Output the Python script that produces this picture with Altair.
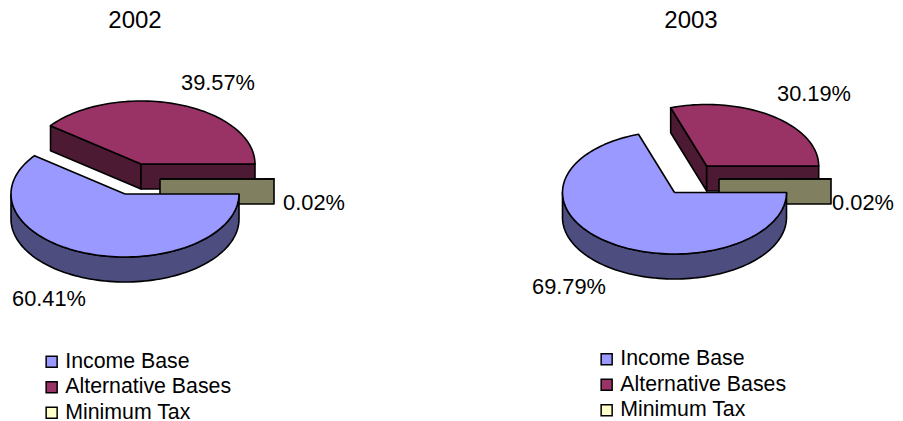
import math
import altair as alt
import pandas as pd

categories = ["Income Base", "Alternative Bases", "Minimum Tax"]
shares_2002 = [60.41, 39.57, 0.02]
shares_2003 = [69.79, 30.19, 0.02]
label_text_2002 = ["60.41%", "39.57%", "0.02%"]
label_text_2003 = ["69.79%", "30.19%", "0.02%"]
legend_colors = ["#9999FF", "#993366", "#FFFFCC"]
top_colors = ["#9999FF", "#993366", "#FFFFCC"]
side_colors = ["#4D4D80", "#4D1A33", "#808060"]

FONT = "Liberation Sans"
LABEL_SIZE = 21.8
LEGEND_SIZE = 21.3
TITLE_SIZE = 24
XDOM = [8, 895]
YDOM = [421, 8]
W, H = 887, 413
xs = alt.Scale(domain=XDOM, nice=False, zero=False)
ys = alt.Scale(domain=YDOM, nice=False, zero=False)
X = lambda f="x:Q": alt.X(f, scale=xs, axis=None)
Y = lambda f="y:Q": alt.Y(f, scale=ys, axis=None)


def arc(cx, cy, rx, ry, a, b, dy=0.0):
    n = max(1, int(abs(b - a) / 2))
    return [
        (cx + rx * math.cos(math.radians(a + (b - a) * i / n)),
         cy + dy + ry * math.sin(math.radians(a + (b - a) * i / n)))
        for i in range(n + 1)
    ]


def poly_layer(points, fill):
    df = pd.DataFrame(
        [{"x": x, "y": y, "i": i} for i, (x, y) in enumerate(points + points[:1])]
    )
    return alt.Chart(df).mark_line(
        fill=fill, stroke="black", strokeWidth=1.6, strokeJoin="round", clip=False
    ).encode(x=X(), y=Y(), order=alt.Order("i:Q"))


def slice_layers(apex, rx, ry, depth, a, b, top, side):
    cx, cy = apex
    out = []
    if -math.cos(math.radians(a)) > 1e-6:
        r = arc(cx, cy, rx, ry, a, a)
        out.append([(cx, cy), r[0], (r[0][0], r[0][1] + depth), (cx, cy + depth)])
    if math.cos(math.radians(b)) > 1e-6:
        r = arc(cx, cy, rx, ry, b, b)
        out.append([(cx, cy), r[0], (r[0][0], r[0][1] + depth), (cx, cy + depth)])
    lo, hi = max(a, 0.0), min(b, 180.0)
    if hi > lo:
        upper = arc(cx, cy, rx, ry, lo, hi)
        lower = arc(cx, cy, rx, ry, hi, lo, depth)
        out.append(upper + lower)
    layers = [poly_layer(p, side) for p in out]
    layers.append(poly_layer([(cx, cy)] + arc(cx, cy, rx, ry, a, b), top))
    return layers


def pie(year, shares, labels, apexes, rx, ry, depth, label_pos, title_pos, legend_xy):
    ends = [sum(shares[: i + 1]) * 3.6 for i in range(3)]
    starts = [0.0] + ends[:2]
    layers = []
    for k in (1, 2, 0):
        layers += slice_layers(apexes[k], rx, ry, depth, starts[k], ends[k],
                               top_colors[k], side_colors[k])
    lab = pd.DataFrame({"t": labels, "x": [p[0] for p in label_pos], "y": [p[1] for p in label_pos]})
    layers.append(
        alt.Chart(lab).mark_text(font=FONT, fontSize=LABEL_SIZE, color="black").encode(
            x=X(), y=Y(), text="t:N"
        )
    )
    ttl = pd.DataFrame({"t": [year], "x": [title_pos[0]], "y": [title_pos[1]]})
    layers.append(
        alt.Chart(ttl).mark_text(font=FONT, fontSize=TITLE_SIZE, color="black").encode(
            x=X(), y=Y(), text="t:N"
        )
    )
    leg = pd.DataFrame({"c": categories, "x": [title_pos[0]] * 3, "y": [title_pos[1]] * 3})
    layers.append(
        alt.Chart(leg).mark_square(size=0).encode(
            x=X(), y=Y(),
            color=alt.Color(
                "c:N",
                scale=alt.Scale(domain=categories, range=legend_colors),
                sort=categories,
                legend=alt.Legend(
                    orient="none", legendX=legend_xy[0], legendY=legend_xy[1], title=None,
                    symbolType="square", symbolSize=121, symbolStrokeColor="black",
                    symbolStrokeWidth=1.5, symbolOpacity=1,
                    labelFont=FONT, labelFontSize=LEGEND_SIZE, labelColor="black",
                    labelOffset=3, rowPadding=3.5, labelLimit=300,
                ),
            ),
        )
    )
    return layers


layers = pie(
    "2002", shares_2002, label_text_2002,
    apexes=[(125, 194), (141, 164), (160, 179)], rx=114, ry=63, depth=25,
    label_pos=[(49, 299), (218, 83), (314, 203)], title_pos=(135, 21),
    legend_xy=(33, 343),
) + pie(
    "2003", shares_2003, label_text_2003,
    apexes=[(674.5, 192.5), (706.7, 166), (719, 179)], rx=112, ry=61.5, depth=25,
    label_pos=[(569, 287), (814, 94), (863, 203)], title_pos=(691, 21),
    legend_xy=(588, 340.5),
)

chart = (
    alt.layer(*layers)
    .resolve_scale(color="independent")
    .properties(width=W, height=H, padding=0,
                autosize=alt.AutoSizeParams(type="none", contains="padding"))
    .configure_view(strokeWidth=0)
)
chart.save("out.html", embed_options={"renderer": "svg", "actions": False})
